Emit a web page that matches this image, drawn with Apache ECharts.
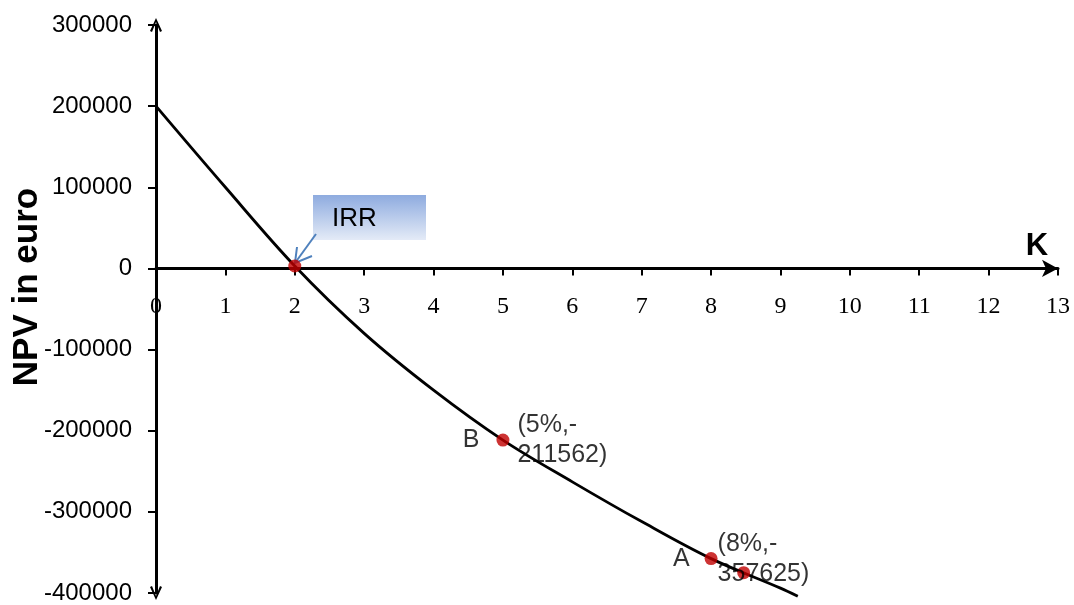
<!DOCTYPE html>
<html>
<head>
<meta charset="utf-8">
<title>NPV in euro</title>
<script src="https://cdn.jsdelivr.net/npm/echarts@6/dist/echarts.min.js"></script>
<style>
    html, body { margin: 0; padding: 0; background: #fff; }
    #main { width: 1074px; height: 605px; }
</style>
</head>
<body>
<div id="main"></div>
<script>
// curve: discount rate K (%) -> NPV
var rates = [0, 1, 2, 3, 4, 5, 6, 7, 8, 9, 9.25];
var npv = [200000, 100000, 3000, -80000, -150000, -211562, -263000, -312000, -357625, -394000, -404000];

// marked points
var dotX = [2, 5, 8, 8.47];
var dotY = [3000, -211562, -357625, -375000];
var dotNames = ['', 'B', 'A', ''];
var dotTexts = ['', '(5%,-\n211562)', '(8%,-\n357625)', ''];
var textGap = [0, 8, 0, 0];
var nameGap = [0, 17, 15, 0];

var yMin = -400000, yMax = 300000, yStep = 100000;
var xMin = 0, xMax = 13, xStep = 1;

var gridTop = 25, gridBottom = 12, chartH = 605;

var chart = echarts.init(document.getElementById('main'));

var linePts = [];
for (var i = 0; i < rates.length; i++) {
    linePts.push([rates[i], npv[i]]);
}

function labelStyle(extra) {
    var s = {fontFamily: 'Liberation Sans', fontSize: 25, lineHeight: 30, color: '#000'};
    for (var k in extra) s[k] = extra[k];
    return s;
}

var dotPts = [], namePts = [];
for (var j = 0; j < dotX.length; j++) {
    dotPts.push({
        value: [dotX[j], dotY[j]],
        label: labelStyle({show: dotTexts[j] !== '', formatter: dotTexts[j], position: 'right', distance: textGap[j]})
    });
    namePts.push({
        value: [dotX[j], dotY[j]],
        label: labelStyle({show: dotNames[j] !== '', formatter: dotNames[j], position: 'left', distance: nameGap[j]})
    });
}

// the x axis crosses at 0, its tick labels sit right under it
var plotH = chartH - gridTop - gridBottom;
var zeroFromBottom = plotH * (0 - yMin) / (yMax - yMin);

var chevron = 'path://M0,13 L6,0 L12,13 L10,13.8 L6,4 L2,13.8 Z';

var option = {
    animation: false,
    grid: {left: 156, right: 16, top: gridTop, bottom: gridBottom, containLabel: false, outerBoundsMode: 'none'},
    xAxis: [
        {
            type: 'value',
            min: xMin, max: xMax, interval: xStep,
            axisLine: {
                show: true, onZero: true,
                lineStyle: {color: '#000', width: 3},
                symbol: ['none', 'arrow'],
                symbolSize: [13, 16]
            },
            axisTick: {show: true, length: 7, lineStyle: {color: '#000', width: 2}},
            axisLabel: {show: false},
            splitLine: {show: false}
        },
        {
            type: 'value',
            position: 'bottom',
            offset: -zeroFromBottom,
            min: xMin, max: xMax, interval: xStep,
            axisLine: {show: false, onZero: false},
            axisTick: {show: false},
            axisLabel: {fontFamily: 'Liberation Serif', fontSize: 24, color: '#000', margin: 26},
            splitLine: {show: false}
        }
    ],
    yAxis: {
        type: 'value',
        min: yMin, max: yMax, interval: yStep,
        axisLine: {
            show: true,
            lineStyle: {color: '#000', width: 3},
            symbol: [chevron, chevron],
            symbolSize: [12, 14]
        },
        axisTick: {show: true, length: 8, lineStyle: {color: '#000', width: 2}},
        axisLabel: {
            fontFamily: 'Liberation Sans', fontSize: 24, color: '#000', margin: 24,
            formatter: function (v) { return String(v); }
        },
        splitLine: {show: false}
    },
    graphic: [
        {
            type: 'text', x: 27, y: 287, rotation: Math.PI / 2,
            style: {text: 'NPV in euro', font: 'bold 35px "Liberation Sans"', fill: '#000', align: 'center', verticalAlign: 'middle'}
        },
        {
            type: 'text', x: 1037, y: 246,
            style: {text: 'K', font: 'bold 31px "Liberation Sans"', fill: '#000', align: 'center', verticalAlign: 'middle'}
        },
        {
            type: 'rect', shape: {x: 313, y: 195, width: 113, height: 45},
            style: {
                fill: new echarts.graphic.LinearGradient(0, 0, 0, 1, [
                    {offset: 0, color: '#8eabdf'},
                    {offset: 1, color: '#e4ebf7'}
                ])
            }
        },
        {
            type: 'text', x: 332, y: 219,
            style: {text: 'IRR', font: '26px "Liberation Sans"', fill: '#000', verticalAlign: 'middle'}
        },
        {
            type: 'line', shape: {x1: 316, y1: 234, x2: 295, y2: 263},
            style: {stroke: '#4f81bd', lineWidth: 2}
        },
        {
            type: 'polyline', shape: {points: [[312, 256], [295, 263], [297, 247]]},
            style: {stroke: '#4f81bd', lineWidth: 2, fill: null}
        }
    ],
    series: [
        {
            type: 'line',
            data: linePts,
            smooth: 0.35,
            showSymbol: false,
            clip: false,
            lineStyle: {color: '#000', width: 2.8},
            z: 2
        },
        {
            type: 'scatter',
            data: namePts,
            symbolSize: 13,
            itemStyle: {color: 'rgba(0,0,0,0)'},
            z: 3
        },
        {
            type: 'scatter',
            data: dotPts,
            symbolSize: 13,
            itemStyle: {color: '#c00000'},
            z: 4
        }
    ]
};

chart.setOption(option);
</script>
</body>
</html>
